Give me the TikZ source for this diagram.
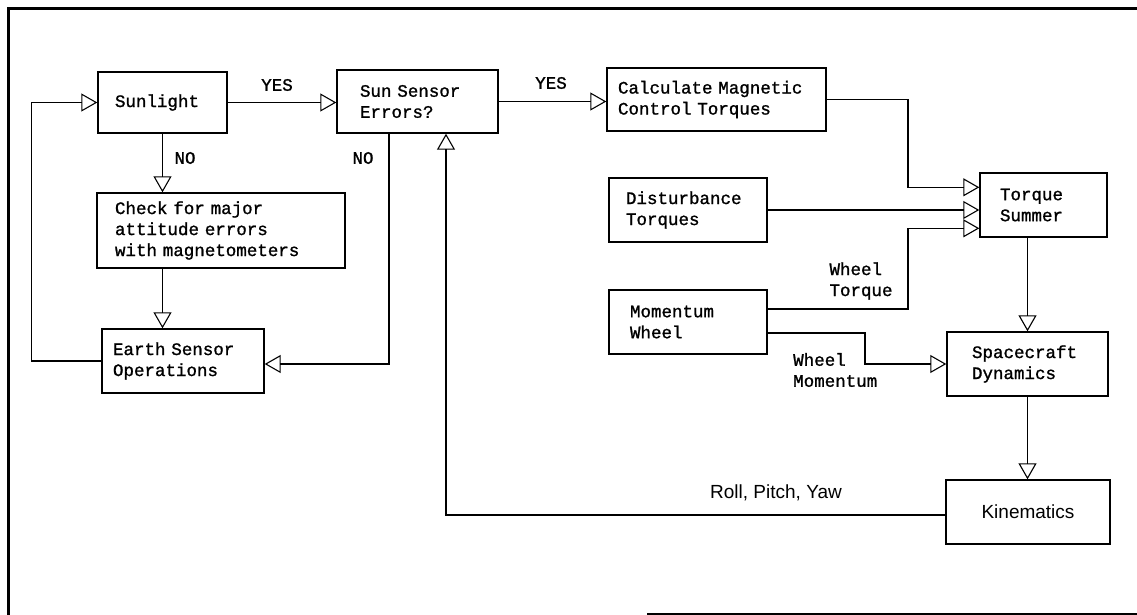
\documentclass[tikz,border=0pt]{standalone}
\usepackage{fontspec}
\newfontfamily\monof[FakeBold=1.2]{Liberation Mono}
\newfontfamily\sansf{Liberation Sans}
\usetikzlibrary{arrows.meta}
\tikzset{
  box/.style={draw, line width=1.4pt, align=left, font=\monof\fontsize{17.5}{21}\selectfont},
  lbl/.style={font=\monof\fontsize{17.5}{21}\selectfont, inner sep=0pt, align=left},
  slbl/.style={font=\sansf\fontsize{19}{22}\selectfont, inner sep=0pt},
  arr/.style={line width=1.1pt, -{Triangle[open, length=16pt, width=18pt]}},
  frame/.style={line width=3pt}
}
\begin{document}
\begin{tikzpicture}[x=1pt, y=-1pt]
\useasboundingbox (0,0) rectangle (1137,615);
% frame
\draw[frame] (8,615) -- (8,9) -- (1137,9);
\draw[frame] (647,614) -- (1137,614);

% boxes
\node[box, minimum width=129pt, minimum height=61pt, inner xsep=17pt, text width=95pt] (sun) at (162.5,102.5) {Sunlight};
\node[box, minimum width=161pt, minimum height=63pt, inner xsep=23pt, text width=115pt] (sse) at (417.5,101.5) {Sun Sensor\\Errors?};
\node[box, minimum width=248pt, minimum height=75pt, inner xsep=18pt, text width=212pt] (chk) at (221,230.5) {Check for major\\attitude errors\\with magnetometers};
\node[box, minimum width=162pt, minimum height=64pt, inner xsep=11pt, text width=140pt] (earth) at (183,361) {Earth Sensor\\Operations};
\node[box, minimum width=219pt, minimum height=63pt, inner xsep=11pt, text width=197pt] (calc) at (716.5,99.5) {Calculate Magnetic\\Control Torques};
\node[box, minimum width=158pt, minimum height=64pt, inner xsep=17pt, text width=124pt] (dist) at (688,210) {Disturbance\\Torques};
\node[box, minimum width=158pt, minimum height=64pt, inner xsep=21pt, text width=116pt] (mw) at (688,322) {Momentum\\Wheel};
\node[box, minimum width=127pt, minimum height=64pt, inner xsep=20pt, text width=87pt] (ts) at (1043.5,205) {Torque\\Summer};
\node[box, minimum width=161pt, minimum height=64pt, inner xsep=25pt, text width=111pt] (sc) at (1027.5,364) {Spacecraft\\Dynamics};
\node[box, minimum width=164pt, minimum height=64pt, font=\sansf\fontsize{19}{22}\selectfont] (kin) at (1028,512) {Kinematics};

% helper coordinates
\coordinate (bus) at (908,0);
\coordinate (ts1) at ([yshift=-15pt]ts.north west);
\coordinate (ts3) at ([yshift=-56pt]ts.north west);

% connectors
\draw[arr] (sun.east) -- (sun.east -| sse.west);
\node[lbl] (yes1) at (277,85) {YES};
\draw[arr] (sse.east) -- (sse.east -| calc.west);
\node[lbl] (yes2) at (551,83) {YES};
\draw[arr] (sun.south) -- (sun.south |- chk.north);
\node[lbl] (no1) at (185,158) {NO};
\draw[arr] (chk.south -| sun.south) -- (earth.north -| sun.south);
\draw[arr] (earth.west) -- ++(-70,0) |- (sun.west);
\draw[arr] ([xshift=-28.5pt]sse.south) |- ([yshift=-3pt]earth.east);
\node[lbl] (no2) at (363,158) {NO};
\draw[arr] ([yshift=-3pt]kin.west) -| ([xshift=28.5pt]sse.south);
\node[slbl] (rpy) at (776,493) {Roll, Pitch, Yaw};

\draw[arr] (calc.east) -| (bus |- ts1) -- (ts1);
\draw[arr] (dist.east) -- (dist.east -| ts.west);
\draw[arr] ([yshift=13pt]mw.east) -| (bus |- ts3) -- (ts3);
\node[lbl] (wt) at (861,281) {Wheel\\Torque};
\draw[arr] ([yshift=-11pt]mw.east) -| (865,364) -- (sc.west);
\node[lbl, anchor=west] (wm) at (793,370) {Wheel\\Momentum};
\draw[arr] (ts.south -| sc.north) -- (sc.north);
\draw[arr] (sc.south) -- (sc.south |- kin.north);
\end{tikzpicture}
\end{document}
